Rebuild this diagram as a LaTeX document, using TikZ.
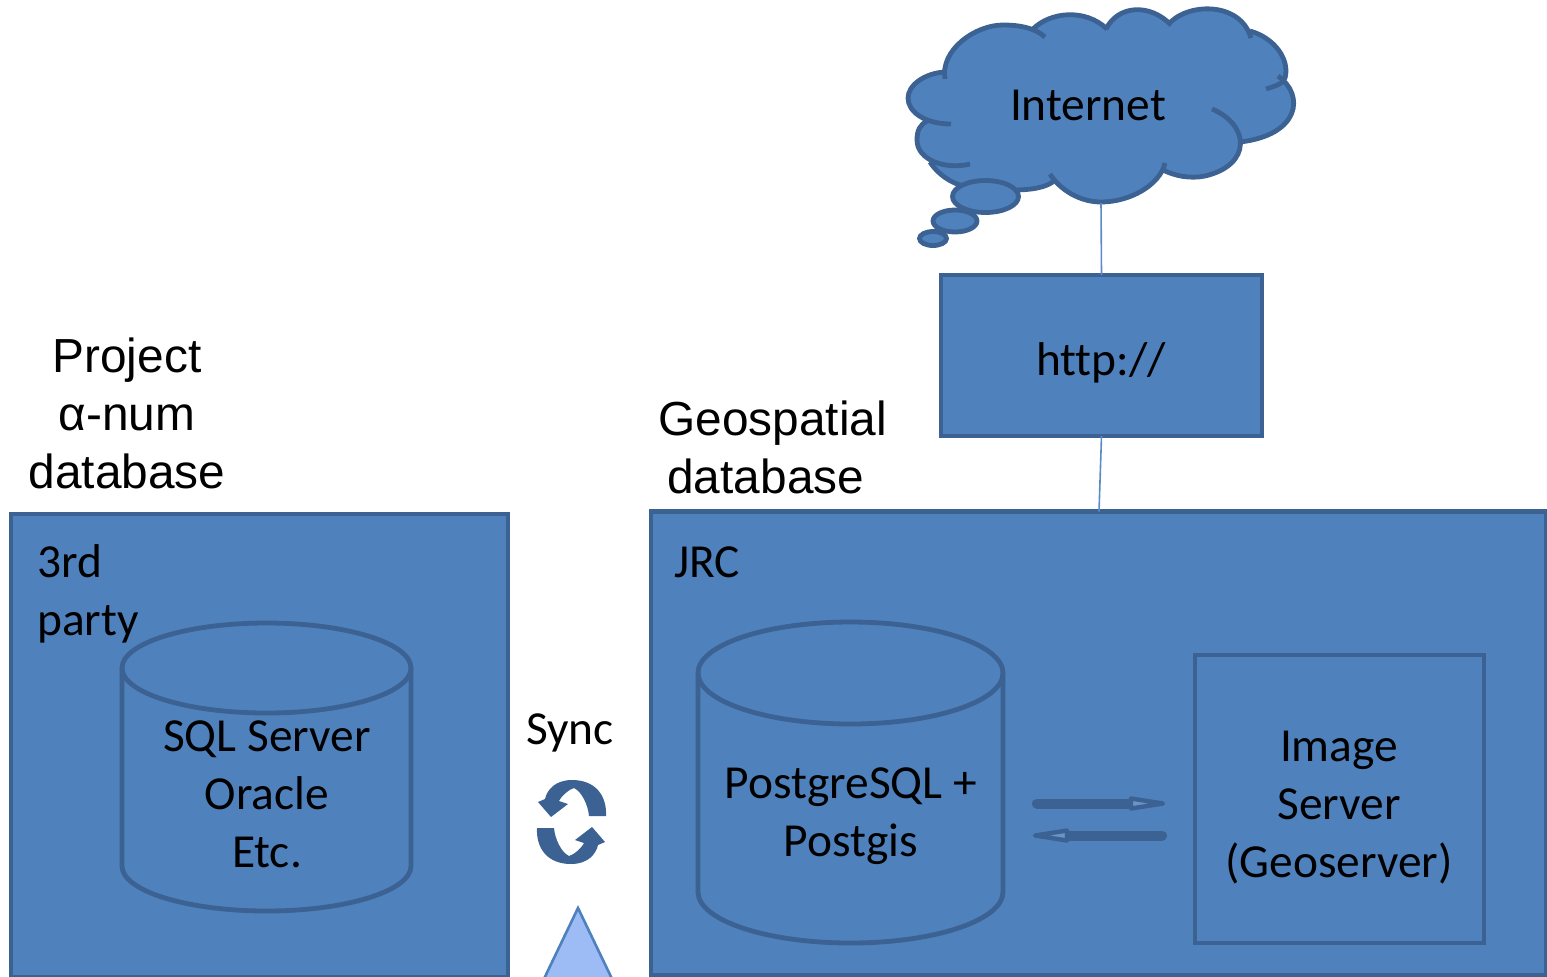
\documentclass[tikz,border=0pt]{standalone}
\usepackage{fontspec}
\setmainfont[Ligatures=NoCommon]{Carlito}
\newfontfamily\arialf{Liberation Sans}
\definecolor{bfill}{HTML}{4F81BD}
\definecolor{bline}{HTML}{3B6292}
\definecolor{conn}{HTML}{5B8AC6}
\definecolor{tri}{HTML}{9DBBF5}
\tikzset{
  blue box/.style={draw=bline,fill=bfill,line width=2.4pt,inner sep=0pt,outer sep=0pt,anchor=north west},
  cal/.style={font=\fontsize{23.7}{29}\selectfont,text=black,align=center,inner sep=0pt},
  ari/.style={font=\arialf\fontsize{23.9}{29}\selectfont,text=black,align=center,inner sep=0pt},
  conn line/.style={draw=conn,line width=0.8pt},
  shape line/.style={draw=bline,line width=2.4pt,fill=bfill},
  lobe/.style={draw=bline,line width=2.4pt,line cap=butt}
}
\newcommand{\cloudlobes}[1]{
 (945,79) .. controls (940,50) and (975,25) .. (1003,25) .. controls (1020,25) and (1035,28) .. (1045,37)
 #1 (1033,29) .. controls (1050,12) and (1085,8) .. (1107,29)
 #1 (1106,29) .. controls (1118,5) and (1150,3) .. (1171,25)
 #1 (1168,25) .. controls (1185,3) and (1240,0) .. (1251,38)
 #1 (1250,31) .. controls (1275,38) and (1290,60) .. (1285,78) .. controls (1283,84) and (1275,86) .. (1266,89)
 #1 (1278,76) .. controls (1305,95) and (1300,135) .. (1240,142)
 #1 (1212,109) .. controls (1250,125) and (1252,165) .. (1205,176) .. controls (1190,179) and (1175,176) .. (1163,170)
 #1 (1165,163) .. controls (1160,185) and (1130,202) .. (1101,202) .. controls (1080,202) and (1060,190) .. (1050,174)
 #1 (1055,180) .. controls (1040,195) and (990,190) .. (960,185) .. controls (945,180) and (935,170) .. (930,162)
 #1 (970,164) .. controls (945,170) and (917,160) .. (917,140) .. controls (917,130) and (920,125) .. (927,121)
 #1 (951,124) .. controls (925,124) and (908,112) .. (908,98) .. controls (908,85) and (925,73) .. (945,72)
}
\newcommand{\syncarrow}{
 (606,816) .. controls (607,795) and (595,780) .. (572,780) .. controls (555,780) and (547,790) .. (545,799)
 -- (538,802) -- (551,817) -- (568,804) -- (559,801) .. controls (562,795) and (570,789) .. (574,788)
 .. controls (582,792) and (588,805) .. (589,816) -- cycle
}
\begin{document}
\begin{tikzpicture}[x=0.5pt,y=-0.5pt]
\useasboundingbox (0,0) rectangle (1547,976);
\clip (0,0) rectangle (1547,976);

% Left container
\node[blue box,minimum width=248.5pt,minimum height=231.5pt] (third) at (11,514) {};

% Right container
\node[blue box,minimum width=447.5pt,minimum height=231.75pt] (jrc) at (651,511.5) {};
\node[cal,anchor=base west] (jrctxt) at (674,577) {JRC};

% Left cylinder
\path[shape line] (122,668) -- (122,866) arc[x radius=144.5,y radius=45,start angle=180,end angle=0] -- (411,668) arc[x radius=144.5,y radius=45,start angle=0,end angle=-180] -- cycle;
\draw[lobe] (122,668) arc[x radius=144.5,y radius=45,start angle=180,end angle=0];
% Right cylinder
\path[shape line] (698,673) -- (698,892) arc[x radius=152.5,y radius=51,start angle=180,end angle=0] -- (1003,673) arc[x radius=152.5,y radius=51,start angle=0,end angle=-180] -- cycle;
\draw[lobe] (698,673) arc[x radius=152.5,y radius=51,start angle=180,end angle=0];

\node[cal,anchor=base west,align=left] (thirdtxt) at (37,635) {3rd\\party};
\node[cal,anchor=base] (sql) at (267,867) {SQL Server\\Oracle\\Etc.};
\node[cal,anchor=base] (pg) at (851,856) {PostgreSQL +\\Postgis};

% Image server
\node[blue box,minimum width=144.5pt,minimum height=144pt] (img) at (1195,655) {};
\node[cal] (imgtxt) at (1339,807.5) {Image\\Server\\(Geoserver)};

% Exchange arrows
\coordinate (arr1a) at (1037,803.5);
\coordinate (arr1b) at (1130,803.5);
\coordinate (arr2a) at (1162,835.5);
\coordinate (arr2b) at (1068,835.5);
\draw[bline,line width=5pt,line cap=round] (arr1a) -- (arr1b);
\draw[bline,line width=5pt,line cap=round] (arr2a) -- (arr2b);
\draw[bline,line width=2.2pt,fill=bfill!85!white,line join=round] (1131,798.5) -- (1163,803.5) -- (1131,808.5) -- cycle;
\draw[bline,line width=2.2pt,fill=bfill!85!white,line join=round] (1067,830.5) -- (1035,835.5) -- (1067,840.5) -- cycle;

% Cloud
\path[fill=bfill] \cloudlobes{--} -- cycle;
\path[fill=bfill] (945,72) -- (1033,29) -- (1250,31) -- (1278,76) -- (1240,142) -- (1163,170) -- (1101,202) -- (1050,174) -- (930,162) -- cycle;
\draw[lobe] \cloudlobes{};
\path[shape line] (985.5,196.5) ellipse[x radius=33,y radius=16];
\path[shape line] (955,221) ellipse[x radius=22,y radius=11];
\path[shape line] (933,238.5) ellipse[x radius=13.5,y radius=7];
\node[cal] (inet) at (1088,105) {Internet};
\coordinate (cloudfoot) at (1101,203);

% http box
\node[blue box,minimum width=160.5pt,minimum height=80.5pt] (http) at (941,275) {};
\node[cal] (httptxt) at (1101,363) {http://};

% Connectors
\draw[conn line] (cloudfoot) -- (http.north);
\draw[conn line] (http.south) -- (jrc.north -| 1099,0);

% Headings
\node[ari,anchor=base] (proj) at (127,488) {Project\\α-num\\database};
\node[ari,anchor=base west,align=left] (geo) at (658,493.5) {Geospatial\\\hspace*{4.5pt}database};

% Sync
\node[cal] (sync) at (570,733) {Sync};
\fill[bline] \syncarrow;
\fill[bline,rotate around={180:(571.5,822)}] \syncarrow;

% Triangle
\path[draw=bfill,line width=1.3pt,fill=tri] (578,908) -- (614.5,984) -- (541.5,984) -- cycle;
\end{tikzpicture}
\end{document}
